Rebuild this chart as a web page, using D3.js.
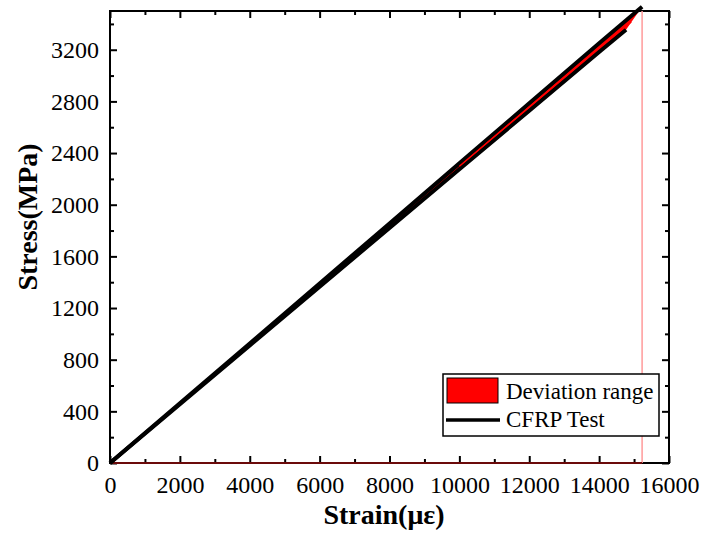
<!DOCTYPE html>
<html>
<head>
<meta charset="utf-8">
<script src="https://cdn.jsdelivr.net/npm/d3@7"></script>
</head>
<body style="margin:0; background:#fff">
<div id="container"></div>
<script>
// strain (με) vs stress (MPa)
const upperTest = [[0, 0], [2000, 462], [4000, 925], [6000, 1390], [8000, 1855], [10000, 2320], [12000, 2785], [14000, 3250], [15230, 3533]];
const lowerTest = [[0, 0], [2000, 455], [4000, 910], [6000, 1365], [8000, 1820], [10000, 2275], [12000, 2728], [14000, 3182], [14770, 3355]];
const failureStrain = 15230;
const xTicks = [0, 2000, 4000, 6000, 8000, 10000, 12000, 14000, 16000];
const yTicks = [0, 400, 800, 1200, 1600, 2000, 2400, 2800, 3200];
const legendItems = ['Deviation range', 'CFRP Test'];

const FONT = 'Liberation Serif';
const width = 703, height = 536;
const margin = { top: 11, right: 34, bottom: 73, left: 110 };

const svg = d3.select('#container').append('svg')
    .attr('width', width)
    .attr('height', height)
    .style('display', 'block');

const x = d3.scaleLinear().domain([0, 16000]).range([margin.left, width - margin.right]);
const y = d3.scaleLinear().domain([0, 3500]).range([height - margin.bottom, margin.top]);
const line = d3.line().x(d => x(d[0])).y(d => y(d[1]));

/* axes: ticks point inward */
const major = 7, minor = 4;
const xMinor = d3.range(1000, 16000, 2000);
const yMinor = d3.range(200, 3500, 400);

function styleLabels(g) {
    g.attr('font-family', FONT);
    g.selectAll('text').attr('font-family', FONT).attr('font-size', 24).attr('fill', '#000');
}

svg.append('g')
    .attr('transform', `translate(0,${y(0)})`)
    .call(d3.axisBottom(x).tickValues(xTicks).tickSize(-major).tickPadding(13).tickFormat(d3.format('d')))
    .call(styleLabels);
svg.append('g')
    .attr('transform', `translate(0,${y(0)})`)
    .call(d3.axisBottom(x).tickValues(xMinor).tickSize(-minor).tickFormat(''));

svg.append('g')
    .attr('transform', `translate(0,${y(3500)})`)
    .call(d3.axisTop(x).tickValues(xTicks).tickSize(-major).tickFormat(''));
svg.append('g')
    .attr('transform', `translate(0,${y(3500)})`)
    .call(d3.axisTop(x).tickValues(xMinor).tickSize(-minor).tickFormat(''));

svg.append('g')
    .attr('transform', `translate(${x(0)},0)`)
    .call(d3.axisLeft(y).tickValues(yTicks).tickSize(-major).tickPadding(11).tickFormat(d3.format('d')))
    .call(styleLabels);
svg.append('g')
    .attr('transform', `translate(${x(0)},0)`)
    .call(d3.axisLeft(y).tickValues(yMinor).tickSize(-minor).tickFormat(''));

svg.append('g')
    .attr('transform', `translate(${x(16000)},0)`)
    .call(d3.axisRight(y).tickValues(yTicks).tickSize(-major).tickFormat(''));
svg.append('g')
    .attr('transform', `translate(${x(16000)},0)`)
    .call(d3.axisRight(y).tickValues(yMinor).tickSize(-minor).tickFormat(''));

svg.selectAll('.domain').remove();
svg.selectAll('.tick line').attr('stroke', '#000').attr('stroke-width', 2);

/* frame */
svg.append('rect')
    .attr('x', x(0)).attr('y', y(3500))
    .attr('width', x(16000) - x(0)).attr('height', y(0) - y(3500))
    .attr('fill', 'none')
    .attr('stroke', '#000')
    .attr('stroke-width', 2);

const plot = svg.append('g').attr('class', 'plot');

/* failure line and base of the range */
plot.append('line')
    .attr('x1', x(failureStrain)).attr('x2', x(failureStrain))
    .attr('y1', y(0)).attr('y2', y(3500))
    .attr('stroke', '#ff9a9a')
    .attr('stroke-width', 1.5);
plot.append('line')
    .attr('x1', x(0)).attr('x2', x(failureStrain))
    .attr('y1', y(0)).attr('y2', y(0))
    .attr('stroke', '#6b0a0a')
    .attr('stroke-width', 2);

/* deviation band between the two test curves */
const band = upperTest.concat(lowerTest.slice().reverse());
plot.append('path')
    .attr('d', line(band) + 'Z')
    .attr('fill', '#ff0000')
    .attr('stroke', 'none');

/* test curves */
[upperTest, lowerTest].forEach(s => {
    plot.append('path')
        .attr('d', line(s))
        .attr('fill', 'none')
        .attr('stroke', '#000')
        .attr('stroke-width', 4)
        .attr('stroke-linejoin', 'round');
});

// thin red centre so the band shows through the black strokes
const mid = lowerTest.slice(0, -1).map((d, i) => [d[0], (d[1] + upperTest[i][1]) / 2]);
mid.push([lowerTest[lowerTest.length - 1][0] + 150, lowerTest[lowerTest.length - 1][1] + 60]);
plot.append('path')
    .attr('d', line(mid.slice(5)))
    .attr('fill', 'none')
    .attr('stroke', '#ff0000')
    .attr('stroke-width', 1.5);

/* axis titles */
svg.append('text')
    .attr('x', 384)
    .attr('y', 524)
    .attr('text-anchor', 'middle')
    .attr('font-family', FONT)
    .attr('font-size', 28)
    .attr('font-weight', 'bold')
    .text('Strain(με)');

svg.append('text')
    .attr('transform', 'translate(37,217) rotate(-90)')
    .attr('text-anchor', 'middle')
    .attr('font-family', FONT)
    .attr('font-size', 28)
    .attr('font-weight', 'bold')
    .text('Stress(MPa)');

/* legend */
const legend = svg.append('g').attr('transform', 'translate(443,374)');
legend.append('rect')
    .attr('width', 216).attr('height', 62)
    .attr('fill', '#fff')
    .attr('stroke', '#000')
    .attr('stroke-width', 1.5);
legend.append('rect')
    .attr('x', 4).attr('y', 4).attr('width', 51).attr('height', 25)
    .attr('fill', '#ff0000')
    .attr('stroke', '#000')
    .attr('stroke-width', 1);
legend.append('line')
    .attr('x1', 3).attr('x2', 57).attr('y1', 46).attr('y2', 46)
    .attr('stroke', '#000')
    .attr('stroke-width', 3.5);
legend.selectAll('text.item')
    .data(legendItems)
    .join('text')
    .attr('class', 'item')
    .attr('x', 63)
    .attr('y', (d, i) => 25 + i * 28)
    .attr('font-family', FONT)
    .attr('font-size', 23)
    .text(d => d);
</script>
</body>
</html>
